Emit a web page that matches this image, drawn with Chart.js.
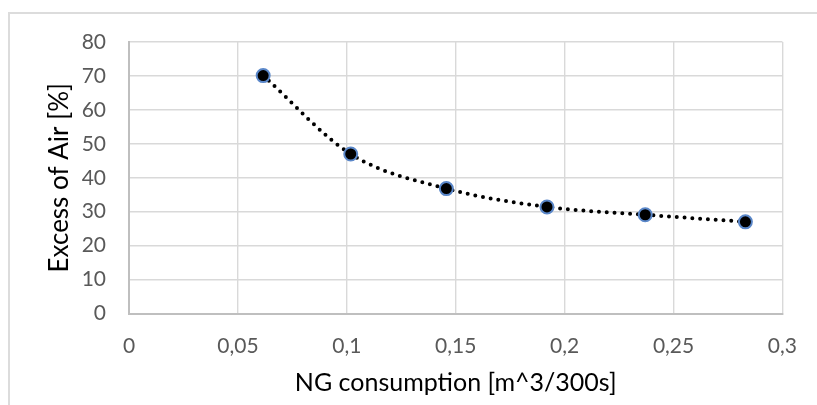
<!DOCTYPE html>
<html>
<head>
<meta charset="utf-8">
<script src="https://cdn.jsdelivr.net/npm/chart.js@4/dist/chart.umd.min.js"></script>
<style>
  html, body { margin: 0; padding: 0; background: #fff; }
  #wrap { position: relative; width: 817px; height: 405px; overflow: hidden; }
  #marco { position: absolute; left: 8px; top: 12px; width: 900px; height: 500px;
           border-top: 2px solid #dcdcdc; border-left: 2px solid #dcdcdc; }
  canvas { position: absolute; left: 0; top: 0; }
</style>
</head>
<body>
<div id="wrap">
  <div id="marco"></div>
  <canvas id="grafica" width="817" height="405"></canvas>
</div>
<script>
// datos
const consumoNG = [0.0616, 0.1018, 0.1457, 0.1919, 0.237, 0.283];
const excesoAire = [70.1, 47.0, 36.8, 31.4, 29.1, 27.0];
const etiquetasX = ["0", "0,05", "0,1", "0,15", "0,2", "0,25", "0,3"];
const etiquetasY = ["0", "10", "20", "30", "40", "50", "60", "70", "80"];

const puntos = consumoNG.map((x, i) => ({ x: x, y: excesoAire[i] }));

const fuente = "Lato";
const ctx = document.getElementById('grafica').getContext('2d');

new Chart(ctx, {
    type: 'scatter',
    data: {
        datasets: [{
            data: puntos,
            showLine: true,
            cubicInterpolationMode: 'monotone',
            borderColor: '#000',
            borderWidth: 4,
            borderDash: [0, 7.8],
            borderCapStyle: 'round',
            pointRadius: 6.5,
            pointBackgroundColor: '#000',
            pointBorderColor: '#5a87c9',
            pointBorderWidth: 2
        }]
    },
    options: {
        responsive: false,
        animation: false,
        layout: { padding: { top: 42, right: 34, left: 0, bottom: 0 } },
        plugins: { legend: { display: false }, tooltip: { enabled: false } },
        scales: {
            x: {
                type: 'linear',
                min: 0,
                max: 0.3,
                afterFit: (s) => { s.height = 91.5; },
                grid: { color: '#d9d9d9', lineWidth: 1.4, drawTicks: false },
                border: { color: '#bfbfbf', width: 2 },
                ticks: {
                    stepSize: 0.05,
                    padding: 20,
                    color: '#595959',
                    font: { family: fuente, size: 21 },
                    callback: (v, i) => etiquetasX[i]
                },
                title: {
                    display: true,
                    text: 'NG consumption [m^3/300s]',
                    color: '#000',
                    font: { family: fuente, size: 25 },
                    padding: { top: 0, bottom: 7 }
                }
            },
            y: {
                min: 0,
                max: 80,
                afterFit: (s) => { s.width = 129; },
                grid: { color: '#d9d9d9', lineWidth: 1.4, drawTicks: false },
                border: { color: '#bfbfbf', width: 2 },
                ticks: {
                    stepSize: 10,
                    padding: 23,
                    color: '#595959',
                    font: { family: fuente, size: 21 },
                    callback: (v, i) => etiquetasY[i]
                },
                title: {
                    display: true,
                    text: 'Excess of Air [%]',
                    color: '#000',
                    font: { family: fuente, size: 26 },
                    padding: { top: 44, bottom: 0 }
                }
            }
        }
    }
});
</script>
</body>
</html>
